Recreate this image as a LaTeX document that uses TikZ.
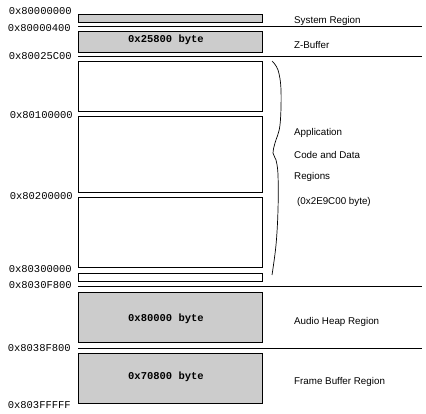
\documentclass[tikz,border=0pt]{standalone}
\usepackage{fontspec}
\setmainfont{Liberation Sans}
\newfontfamily\addrfont{Liberation Mono}
\begin{document}
\begin{tikzpicture}[x=1pt,y=-1pt,
  membox/.style={draw, line width=1pt, inner sep=0pt, anchor=north west, minimum width=184pt},
  shadebox/.style={membox, fill=black!20},
  addr/.style={anchor=east, inner sep=0pt, font=\addrfont\fontsize{10.5}{12}\selectfont},
  sizelbl/.style={inner sep=0pt, font=\addrfont\bfseries\fontsize{10.5}{12}\selectfont},
  rlabel/.style={anchor=west, inner sep=0pt, font=\fontsize{9.8}{11}\selectfont},
  sep/.style={line width=1pt}]
\useasboundingbox (0,0) rectangle (426,414);
% boxes
\node[shadebox, minimum height=8pt] (sys) at (78,14) {};
\node[shadebox, minimum height=21pt] (zbuf) at (78,31) {};
\node[membox, minimum height=50pt] (app1) at (78,61) {};
\node[membox, minimum height=76pt] (app2) at (78,116) {};
\node[membox, minimum height=70pt] (app3) at (78,197) {};
\node[membox, minimum height=8pt] (app4) at (78,273) {};
\node[shadebox, minimum height=50pt] (audio) at (78,292) {};
\node[shadebox, minimum height=50pt] (frame) at (78,353) {};
% separator lines
\coordinate (s1a) at (78,27);   \coordinate (s1b) at (422,27);
\coordinate (s2a) at (78,57);   \coordinate (s2b) at (422,57);
\coordinate (s3a) at (78,287);  \coordinate (s3b) at (422,287);
\coordinate (s4a) at (78,348);  \coordinate (s4b) at (422,348);
\draw[sep] (s1a) -- (s1b);
\draw[sep] (s2a) -- (s2b);
\draw[sep] (s3a) -- (s3b);
\draw[sep] (s4a) -- (s4b);
% size labels
\node[sizelbl] (zsz) at (166,40) {0x25800 byte};
\node[sizelbl] (asz) at (166,319) {0x80000 byte};
\node[sizelbl] (fsz) at (166,377) {0x70800 byte};
% addresses
\node[addr] (a0) at (72,11) {0x80000000};
\node[addr] (a1) at (71,28) {0x80000400};
\node[addr] (a2) at (72,56) {0x80025C00};
\node[addr] (a3) at (73,115) {0x80100000};
\node[addr] (a4) at (73,196) {0x80200000};
\node[addr] (a5) at (72,269) {0x80300000};
\node[addr] (a6) at (72,285) {0x8030F800};
\node[addr] (a7) at (71,348) {0x8038F800};
\node[addr] (a8) at (71,405) {0x803FFFFF};
% right labels
\node[rlabel] (lsys) at (294,21) {System Region};
\node[rlabel] (lz) at (294,45) {Z-Buffer};
\node[rlabel] (lapp1) at (294,133) {Application};
\node[rlabel] (lapp2) at (294,155) {Code and Data};
\node[rlabel] (lapp3) at (294,177) {Regions};
\node[rlabel] (lapp4) at (297,202) {(0x2E9C00 byte)};
\node[rlabel] (laud) at (294,322) {Audio Heap Region};
\node[rlabel] (lfr) at (294,382) {Frame Buffer Region};
% brace
\draw[line width=0.7pt] plot[smooth, tension=0.6] coordinates
  {(272,61) (278,70) (281,90) (280,125) (275,143) (273,153) (276,160) (278,175) (278,210) (276,245) (272,275)};
\end{tikzpicture}
\end{document}
